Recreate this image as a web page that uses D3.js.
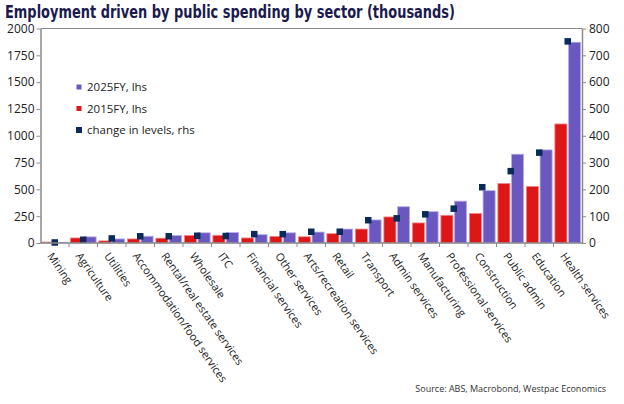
<!DOCTYPE html>
<html>
<head>
<meta charset="utf-8">
<script src="https://cdn.jsdelivr.net/npm/d3@7"></script>
<style>
  body { margin: 0; background: #fff; }
  svg { display: block; }
  .tick text { font-family: "Open Sans", sans-serif; fill: #222; }
</style>
</head>
<body>
<svg id="chart" width="624" height="404"></svg>
<script>
// sectors, in the order they appear along the x axis
var sectors = ['Mining', 'Agriculture', 'Utilities', 'Accommodation/food services',
    'Rental/real estate services', 'Wholesale', 'ITC', 'Financial services', 'Other services',
    'Arts/recreation services', 'Retail', 'Transport', 'Admin services', 'Manufacturing',
    'Professional services', 'Construction', 'Public admin', 'Education', 'Health services'];

// thousands of jobs, left axis
var fy2025 = [6, 57, 38, 63, 70, 95, 97, 78, 95, 102, 130, 215, 338, 292, 390, 488, 828, 868, 1872];
var fy2015 = [9, 47, 20, 38, 45, 70, 72, 47, 62, 58, 87, 130, 243, 187, 258, 275, 555, 528, 1110];
// change in levels, right axis
var change = [2, 12, 17, 25, 25, 27, 26, 33, 33, 42, 42, 85, 92, 107, 128, 208, 268, 337, 752];

var leftTicks = [0, 250, 500, 750, 1000, 1250, 1500, 1750, 2000];
var rightTicks = [0, 100, 200, 300, 400, 500, 600, 700, 800];

var legendItems = [
    { label: '2025FY, lhs', color: '#6a58c0', size: 5 },
    { label: '2015FY, lhs', color: '#dd1717', size: 5 },
    { label: 'change in levels, rhs', color: '#0b2a5c', size: 6 }
];

var margin = { top: 28.5, left: 40.5, right: 42, bottom: 161 },
    width = 624 - margin.left - margin.right,
    height = 404 - margin.top - margin.bottom;

var svg = d3.select('#chart');

svg.append('text')
    .attr('x', 5)
    .attr('y', 18)
    .attr('textLength', 450)
    .attr('lengthAdjust', 'spacingAndGlyphs')
    .style('font-family', "'Liberation Sans Narrow', 'DejaVu Sans Condensed', sans-serif")
    .style('font-weight', 'bold')
    .style('font-size', '18.5px')
    .style('fill', '#1b1a4f')
    .text('Employment driven by public spending by sector (thousands)');

var g = svg.append('g').attr('transform', 'translate(' + margin.left + ',' + margin.top + ')');

var x = d3.scaleBand().domain(sectors).range([0, width]);
var sub = d3.scaleBand().domain(['y2015', 'y2025']).range([0, x.bandwidth()])
    .paddingInner(0.12).paddingOuter(0.1);
var yLeft = d3.scaleLinear().domain([0, 2000]).range([height, 0]);
var yRight = d3.scaleLinear().domain([0, 800]).range([height, 0]);

// frame line on top
g.append('line')
    .attr('x1', 0).attr('x2', width)
    .attr('y1', 0).attr('y2', 0)
    .attr('stroke', '#8a8a8a');

function styleAxis(sel) {
    sel.select('.domain').attr('stroke', '#8a8a8a').attr('stroke-width', 1.5);
    sel.selectAll('.tick line').attr('stroke', '#8a8a8a');
}

g.append('g')
    .call(d3.axisLeft(yLeft).tickValues(leftTicks).tickFormat(d3.format('d'))
        .tickSize(4).tickSizeOuter(0).tickPadding(2))
    .call(styleAxis)
    .selectAll('text').style('font-size', '12px');

g.append('g')
    .attr('transform', 'translate(' + width + ',0)')
    .call(d3.axisRight(yRight).tickValues(rightTicks).tickFormat(d3.format('d'))
        .tickSize(4).tickSizeOuter(0).tickPadding(3))
    .call(styleAxis)
    .selectAll('text').style('font-size', '12px');

// bars
var groups = g.selectAll('.sector')
    .data(sectors)
    .enter().append('g')
    .attr('class', 'sector')
    .attr('transform', function (d) { return 'translate(' + x(d) + ',0)'; });

groups.append('rect')
    .attr('x', sub('y2015'))
    .attr('width', sub.bandwidth())
    .attr('y', function (d, i) { return yLeft(fy2015[i]); })
    .attr('height', function (d, i) { return height - yLeft(fy2015[i]); })
    .attr('fill', '#dd1717')
    .attr('stroke', '#f08a8a')
    .attr('stroke-width', 0.8);

groups.append('rect')
    .attr('x', sub('y2025'))
    .attr('width', sub.bandwidth())
    .attr('y', function (d, i) { return yLeft(fy2025[i]); })
    .attr('height', function (d, i) { return height - yLeft(fy2025[i]); })
    .attr('fill', '#6a58c0')
    .attr('stroke', '#b7aee8')
    .attr('stroke-width', 0.8);

// x axis with ticks between categories
var xAxis = g.append('g').attr('transform', 'translate(0,' + height + ')');
xAxis.append('line')
    .attr('x1', 0).attr('x2', width)
    .attr('stroke', '#8a8a8a').attr('stroke-width', 1.5);
xAxis.selectAll('.sep')
    .data(sectors.slice(1))
    .enter().append('line')
    .attr('x1', function (d) { return x(d); })
    .attr('x2', function (d) { return x(d); })
    .attr('y1', 0).attr('y2', 4)
    .attr('stroke', '#8a8a8a');

// markers for change in levels
var mk = 6.5;
groups.append('rect')
    .attr('x', x.bandwidth() / 2 - mk / 2)
    .attr('y', function (d, i) { return yRight(change[i]) - mk / 2; })
    .attr('width', mk)
    .attr('height', mk)
    .attr('fill', '#0b2a5c');

xAxis.selectAll('.lbl')
    .data(sectors)
    .enter().append('text')
    .attr('transform', function (d) {
        return 'translate(' + (x(d) + x.bandwidth() / 2 - 8) + ',13) rotate(55)';
    })
    .style('font-family', '"Open Sans", sans-serif')
    .style('font-size', '11px')
    .style('fill', '#222')
    .text(function (d) { return d; });

// legend
var legend = svg.append('g').attr('transform', 'translate(79,87)');
var li = legend.selectAll('.item')
    .data(legendItems)
    .enter().append('g')
    .attr('transform', function (d, i) { return 'translate(0,' + (i * 21.5) + ')'; });
li.append('rect')
    .attr('x', function (d) { return -d.size / 2; })
    .attr('y', function (d) { return -d.size / 2; })
    .attr('width', function (d) { return d.size; })
    .attr('height', function (d) { return d.size; })
    .attr('fill', function (d) { return d.color; });
li.append('text')
    .attr('x', 8)
    .attr('y', 4)
    .style('font-family', '"Open Sans", sans-serif')
    .style('font-size', '11.5px')
    .style('fill', '#222')
    .text(function (d) { return d.label; });

svg.append('text')
    .attr('x', 606)
    .attr('y', 392)
    .attr('text-anchor', 'end')
    .style('font-family', '"Open Sans", sans-serif')
    .style('font-size', '9px')
    .style('fill', '#333')
    .text('Source: ABS, Macrobond, Westpac Economics');
</script>
</body>
</html>
